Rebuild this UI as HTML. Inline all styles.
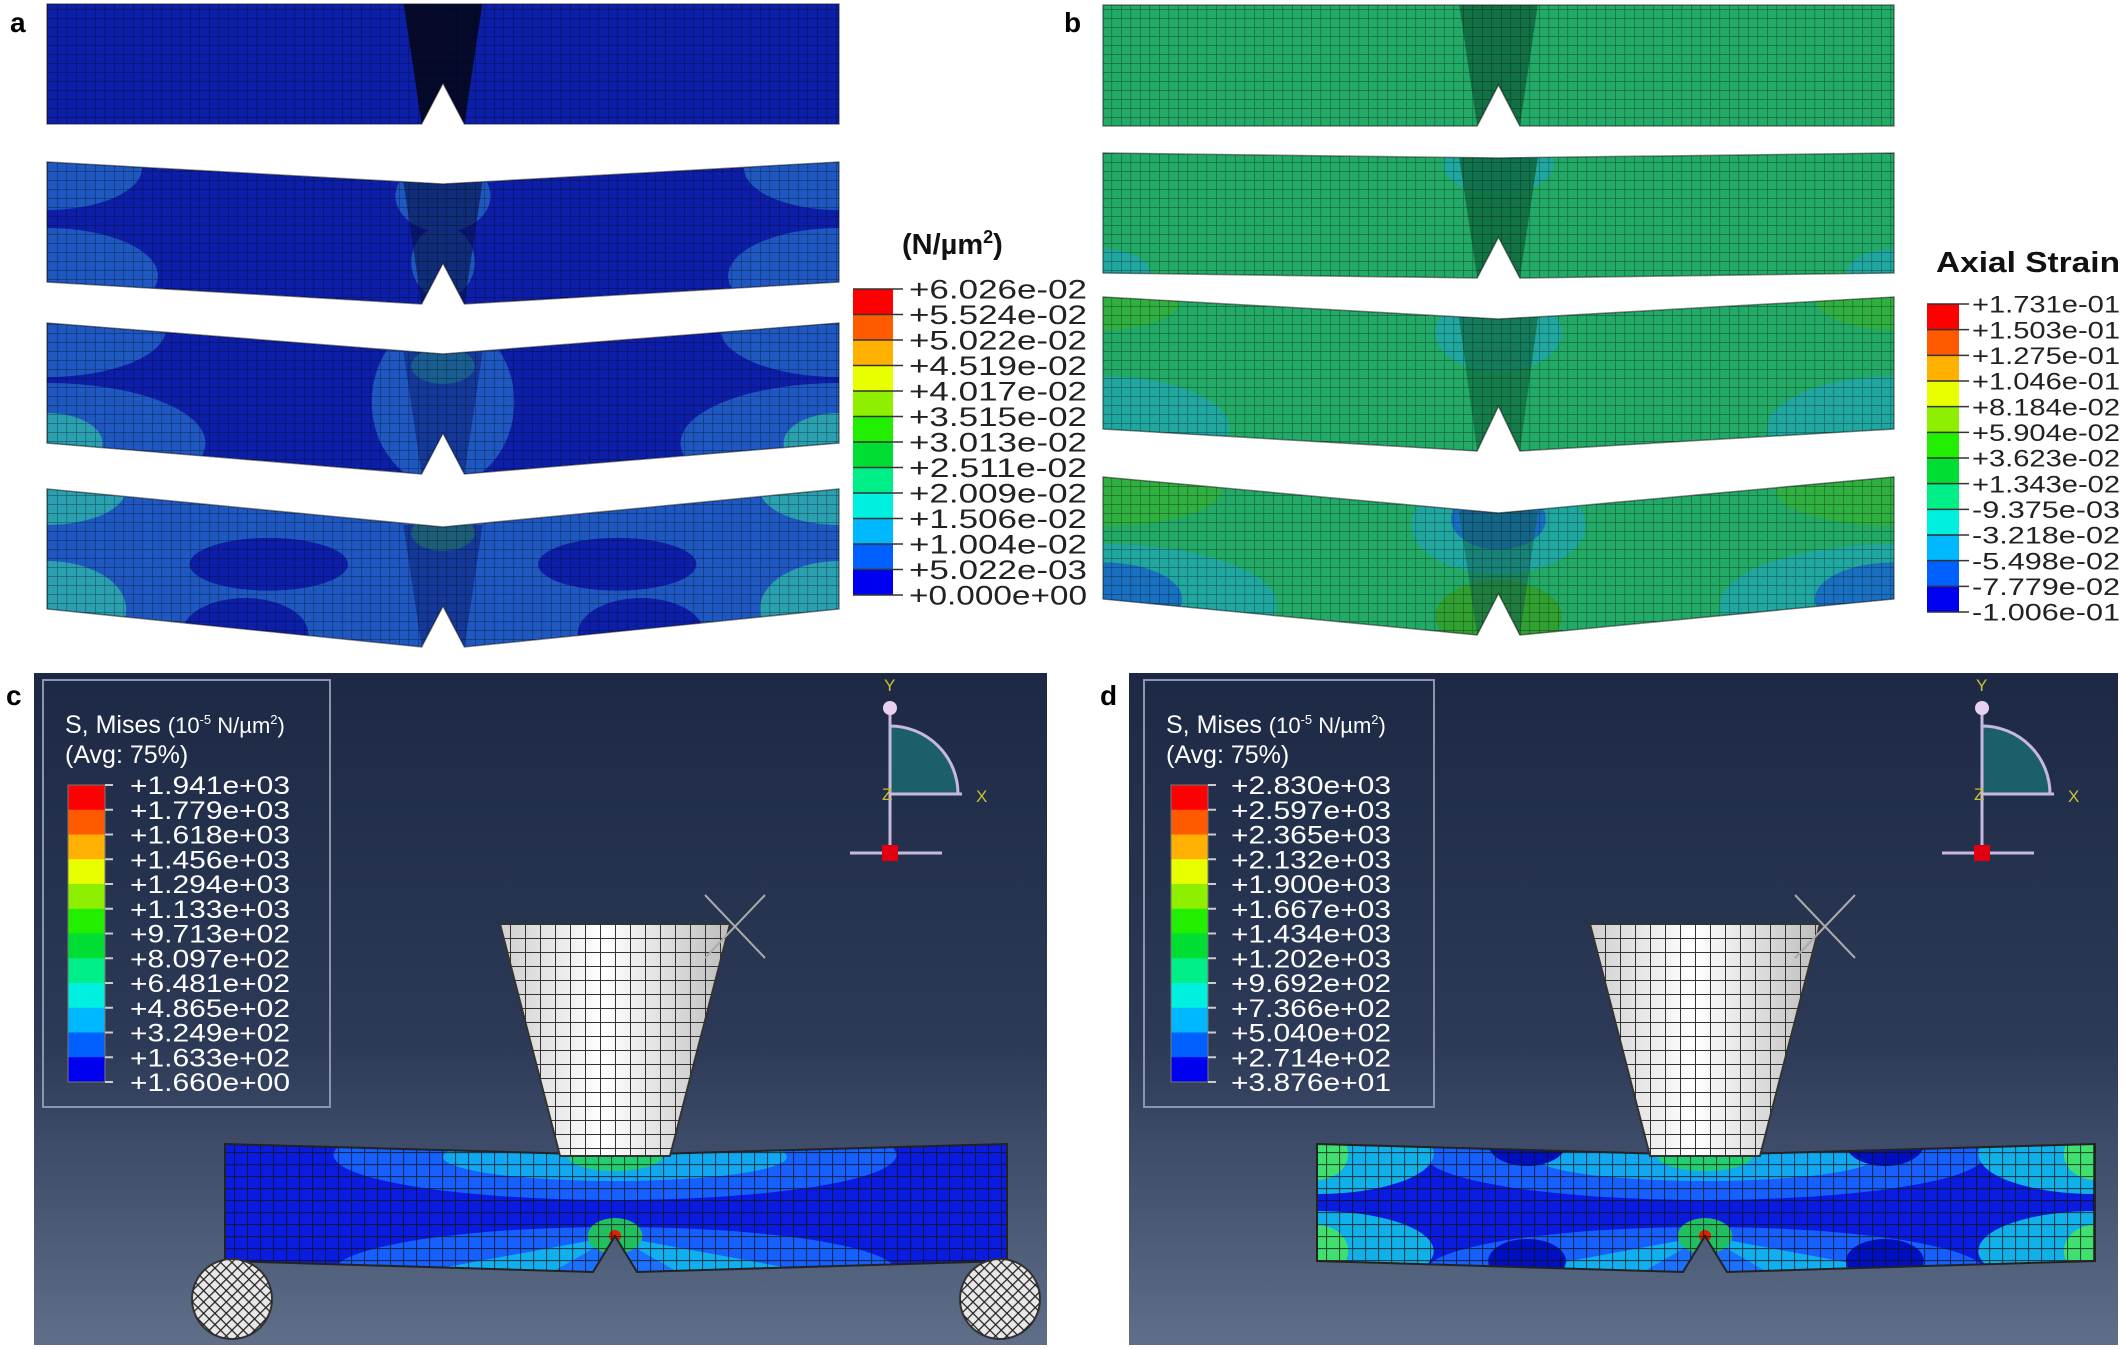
<!DOCTYPE html>
<html><head><meta charset="utf-8"><style>
html,body{margin:0;padding:0;background:#fff;}
svg{display:block;}
text{font-family:"Liberation Sans","DejaVu Sans",sans-serif;}
</style></head>
<body>
<svg id="fig" width="2125" height="1349" viewBox="0 0 2125 1349" xmlns="http://www.w3.org/2000/svg">
<defs>
  <pattern id="meshA" width="9.5" height="9" patternUnits="userSpaceOnUse"><path d="M0 0V9M0 0H9.5" stroke="#000" stroke-opacity="0.45" stroke-width="1.2" fill="none"/></pattern>
  <pattern id="meshC" width="13" height="12" patternUnits="userSpaceOnUse"><path d="M0 0V12M0 0H13" stroke="#111" stroke-opacity="0.7" stroke-width="2.2" fill="none"/></pattern>
  <pattern id="meshI" width="15" height="14" patternUnits="userSpaceOnUse"><path d="M0 0V14M0 0H15" stroke="#333" stroke-width="2" fill="none"/></pattern>
  <pattern id="meshR" width="8" height="8" patternUnits="userSpaceOnUse" patternTransform="rotate(45)"><path d="M0 0V8M0 0H8" stroke="#222" stroke-width="2.5" fill="none"/></pattern>
  <linearGradient id="bg" x1="0" y1="0" x2="0" y2="1"><stop offset="0" stop-color="#1d2944"/><stop offset="0.55" stop-color="#2c3a57"/><stop offset="1" stop-color="#5f6e89"/></linearGradient>
  <linearGradient id="cone" x1="0" y1="0" x2="1" y2="0"><stop offset="0" stop-color="#cfcfcf"/><stop offset="0.45" stop-color="#ffffff"/><stop offset="1" stop-color="#bdbdbd"/></linearGradient>
</defs>
<g id="root"></g>
</svg>
<script>
// ---- Legend data ----
const legendAValues = ["+6.026e-02","+5.524e-02","+5.022e-02","+4.519e-02","+4.017e-02","+3.515e-02","+3.013e-02","+2.511e-02","+2.009e-02","+1.506e-02","+1.004e-02","+5.022e-03","+0.000e+00"];
const legendBValues = ["+1.731e-01","+1.503e-01","+1.275e-01","+1.046e-01","+8.184e-02","+5.904e-02","+3.623e-02","+1.343e-02","-9.375e-03","-3.218e-02","-5.498e-02","-7.779e-02","-1.006e-01"];
const legendCValues = ["+1.941e+03","+1.779e+03","+1.618e+03","+1.456e+03","+1.294e+03","+1.133e+03","+9.713e+02","+8.097e+02","+6.481e+02","+4.865e+02","+3.249e+02","+1.633e+02","+1.660e+00"];
const legendDValues = ["+2.830e+03","+2.597e+03","+2.365e+03","+2.132e+03","+1.900e+03","+1.667e+03","+1.434e+03","+1.202e+03","+9.692e+02","+7.366e+02","+5.040e+02","+2.714e+02","+3.876e+01"];
const bandColors = ["#ff0000","#ff5a00","#ffb000","#e8ff00","#8ef000","#22ee00","#00dd33","#00ee88","#00f0e0","#00b8ff","#0060ff","#0000f0"];

const NS="http://www.w3.org/2000/svg";
const root=document.getElementById('root');
function mk(tag,attrs,parent,txt){const e=document.createElementNS(NS,tag);for(const k in attrs)e.setAttribute(k,attrs[k]);if(txt!==undefined)e.textContent=txt;(parent||root).appendChild(e);return e;}

[["a",10,32],["b",1064,32],["c",6,705],["d",1100,705]].forEach(([t,x,y])=>{
  const e=mk('text',{x:x,y:y,'font-size':28,'font-weight':'bold',fill:'#000'},root,t);
  
  
});

let clipId=0;
function beam(x0,x1,yL,yC,t,base,patches,pat,name,wedge){
  const g=mk('g',{});
  
  
  const xc=(x0+x1)/2, nw=(x1-x0)*0.027, nh=t*0.34, W=x1-x0;
  const pts=[[x0,yL],[xc,yC],[x1,yL],[x1,yL+t],[xc+nw,yC+t],[xc,yC+t-nh],[xc-nw,yC+t],[x0,yL+t]].map(p=>p.join(',')).join(' ');
  const id='clip'+(clipId++);
  const cp=mk('clipPath',{id:id},g);mk('polygon',{points:pts},cp);
  const inner=mk('g',{'clip-path':'url(#'+id+')'},g);
  mk('polygon',{points:pts,fill:base},inner);
  patches.forEach(p=>mk('ellipse',{cx:x0+p[0]*W,cy:yL+p[1]*t+(yC-yL)*(1-Math.abs(p[0]-0.5)*2),rx:p[2]*W,ry:p[3]*t,fill:p[4],opacity:p[5]||1},inner));
  if(wedge){
    const wp=`${xc-W*0.05},${yC-2} ${xc+W*0.05},${yC-2} ${xc+nw},${yC+t} ${xc-nw},${yC+t}`;
    mk('polygon',{points:wp,fill:wedge[0],opacity:wedge[1]},inner);
  }
  mk('polygon',{points:pts,fill:'url(#'+pat+')'},inner);
  mk('polygon',{points:pts,fill:'none',stroke:'#111','stroke-opacity':0.5,'stroke-width':1.5},g);
  return g;
}

const aDark="#0d1fa8", aMid="#1f58c0", aCy="#2aa0b0";
beam(47,839,4,4,120,aDark,[],'meshA','beam-a-1',["#04081e",0.9]);
beam(47,839,162,184,120,aDark,[[0,0.05,0.12,0.35,aMid],[1,0.05,0.12,0.35,aMid],[0,0.95,0.14,0.4,aMid],[1,0.95,0.14,0.4,aMid],[0.5,0.1,0.06,0.3,aMid],[0.5,0.65,0.04,0.3,aMid]],'meshA','beam-a-2',["#06104a",0.6]);
beam(47,839,323,354,120,aDark,[[0,0.05,0.15,0.4,aMid],[1,0.05,0.15,0.4,aMid],[0,1,0.2,0.5,aMid],[1,1,0.2,0.5,aMid],[0,1,0.07,0.25,aCy],[1,1,0.07,0.25,aCy],[0.5,0.4,0.09,0.7,aMid],[0.5,0.1,0.04,0.15,aCy]],'meshA','beam-a-3',["#0a1a70",0.5]);
beam(47,839,489,527,120,aMid,[[0.28,0.45,0.1,0.22,aDark],[0.72,0.45,0.1,0.22,aDark],[0.25,1.05,0.08,0.3,aDark],[0.75,1.05,0.08,0.3,aDark],[0,0.0,0.1,0.3,aCy],[1,0.0,0.1,0.3,aCy],[0,1,0.1,0.4,aCy],[1,1,0.1,0.4,aCy],[0.5,0.05,0.04,0.15,"#30a080"]],'meshA','beam-a-4',["#0a1a70",0.5]);

const bG="#22aa66", bDk="#0f6a40", bC="#20a8a0", bB="#1a70c0";
beam(1103,1894,5,5,121,bG,[],'meshA','beam-b-1',[bDk,0.9]);
beam(1103,1894,153,158,120,bG,[[0,1,0.06,0.2,bC],[1,1,0.06,0.2,bC],[0.5,0.05,0.07,0.25,bC]],'meshA','beam-b-2',[bDk,0.85]);
beam(1103,1894,297,319,132,bG,[[0.5,0.1,0.08,0.3,bC],[0,1,0.16,0.4,bC],[1,1,0.16,0.4,bC],[0,0,0.1,0.25,"#30b040"],[1,0,0.1,0.25,"#30b040"]],'meshA','beam-b-3',[bDk,0.7]);
beam(1103,1894,477,513,122,bG,[[0.5,0.1,0.11,0.4,bC],[0.5,0.05,0.06,0.25,bB],[0,1.05,0.22,0.5,bC],[1,1.05,0.22,0.5,bC],[0,1,0.1,0.3,bB],[1,1,0.1,0.3,bB],[0,0.1,0.15,0.3,"#30b040"],[1,0.1,0.15,0.3,"#30b040"],[0.5,0.85,0.08,0.3,"#30a030"]],'meshA','beam-b-4',["#0f5a50",0.5]);

function legend(x,y,w,h,vals,tx,fs,name,dx){
  const g=mk('g',{});
  
  
  const n=bandColors.length, bh=h/n;
  bandColors.forEach((c,i)=>{
    const r=mk('rect',{x:x,y:y+i*bh,width:w,height:bh+0.5,fill:c},g);
    
    
  });
  mk('rect',{x:x,y:y,width:w,height:h,fill:'none',stroke:'#777','stroke-width':1},g);
  vals.forEach((v,i)=>{
    const yy=y+i*bh;
    mk('line',{x1:x+w,y1:yy,x2:x+w+8,y2:yy,stroke:'#ccc','stroke-width':2},g);
    const t=mk('text',{x:tx,y:yy+fs*0.36,'font-size':fs,fill:'#fff',textLength:dx,lengthAdjust:'spacingAndGlyphs'},g,v);
    
    
  });
}
function legendPlain(x,y,w,h,vals,tx,fs,name,tl){
  const g=mk('g',{});
  
  
  const n=bandColors.length, bh=h/n;
  bandColors.forEach((c,i)=>{
    const r=mk('rect',{x:x,y:y+i*bh,width:w,height:bh+0.5,fill:c},g);
    
    
  });
  vals.forEach((v,i)=>{
    const yy=y+i*bh;
    mk('line',{x1:x,y1:yy,x2:x+w+10,y2:yy,stroke:'#333','stroke-width':1.5},g);
    const t=mk('text',{x:tx,y:yy+fs*0.36,'font-size':fs,fill:'#222',textLength:tl,lengthAdjust:'spacingAndGlyphs'},g,v);
    
    
  });
}
let t1=mk('text',{x:902,y:254,'font-size':29,'font-weight':'bold',fill:'#111'},root);
t1.innerHTML='(N/µm<tspan font-size="18" dy="-11">2</tspan><tspan dy="11">)</tspan>';


legendPlain(853,289,40,306,legendAValues,909,27,'legend-a',178);
let t2=mk('text',{x:1936,y:272,'font-size':29,'font-weight':'bold',fill:'#111',textLength:184,lengthAdjust:'spacingAndGlyphs'},root,'Axial Strain');


legendPlain(1927,304,32,308,legendBValues,1972,24,'legend-b',148);

function panel(px,pw,lb,cb,vals,bm,rollers,tri,name){
  const g=mk('g',{});
  
  
  mk('rect',{x:px,y:673,width:pw,height:672,fill:'url(#bg)'},g);
  mk('rect',{x:lb[0],y:680,width:lb[1]-lb[0],height:427,fill:'none',stroke:'#8a96ad','stroke-width':2},g);
  const tt=mk('text',{x:lb[0]+22,y:733,'font-size':25,fill:'#fff'},g);
  tt.innerHTML='S, Mises <tspan font-size="22">(10</tspan><tspan font-size="13" dy="-9">-5</tspan><tspan font-size="22" dy="9"> N/µm</tspan><tspan font-size="13" dy="-9">2</tspan><tspan font-size="22" dy="9">)</tspan>';
  mk('text',{x:lb[0]+22,y:763,'font-size':25,fill:'#fff'},g,'(Avg: 75%)');
  legend(cb[0],785,cb[1]-cb[0],297,vals,cb[2],25,name+'-legend',160);
  const tx=tri, tg=mk('g',{},g);
  
  
  mk('path',{d:`M${tx} 794 V726 A68 68 0 0 1 ${tx+68} 794 Z`,fill:'#1b5f6a',stroke:'#c8b8e0','stroke-width':3},tg);
  mk('line',{x1:tx,y1:708,x2:tx,y2:853,stroke:'#c8b8e0','stroke-width':3},tg);
  mk('line',{x1:tx,y1:794,x2:tx+72,y2:794,stroke:'#c8b8e0','stroke-width':3},tg);
  mk('circle',{cx:tx,cy:708,r:7,fill:'#e8d0f0'},tg);
  mk('line',{x1:tx-40,y1:853,x2:tx+52,y2:853,stroke:'#c8b8e0','stroke-width':3},tg);
  mk('rect',{x:tx-8,y:845,width:16,height:16,fill:'#e00010'},tg);
  mk('text',{x:tx-6,y:691,'font-size':17,fill:'#c8c030'},tg,'Y');
  mk('text',{x:tx+86,y:802,'font-size':17,fill:'#c8c030'},tg,'X');
  mk('text',{x:tx-8,y:800,'font-size':17,fill:'#c8c030'},tg,'Z');
  const [x0,x1,xn]=bm, yL=1144, yC=1155, yB=1261, yBC=1272;
  const pts=`${x0},${yL} ${xn},${yC} ${x1},${yL} ${x1},${yB} ${xn+22},${yBC} ${xn},${yBC-36} ${xn-22},${yBC} ${x0},${yB}`;
  const id='clip'+(clipId++);
  const cp=mk('clipPath',{id:id},g);mk('polygon',{points:pts},cp);
  const bg=mk('g',{'clip-path':'url(#'+id+')'},g);
  
  
  mk('polygon',{points:pts,fill:'#0a1ce0'},bg);
  const W=x1-x0;
  mk('ellipse',{cx:xn,cy:yC,rx:W*0.36,ry:45,fill:'#1560ff'},bg);
  mk('ellipse',{cx:xn,cy:yC+2,rx:W*0.22,ry:24,fill:'#10a8f0'},bg);
  mk('ellipse',{cx:xn,cy:yC+2,rx:W*0.06,ry:14,fill:'#20d070'},bg);
  mk('ellipse',{cx:xn,cy:yBC,rx:W*0.36,ry:45,fill:'#1560ff'},bg);
  mk('polygon',{points:`${xn},${yBC-36} ${xn-W*0.25},${yBC} ${xn+W*0.25},${yBC}`,fill:'#10b0f0'},bg);
  mk('polygon',{points:`${xn},${yBC-36} ${xn-W*0.08},${yBC} ${xn+W*0.08},${yBC}`,fill:'#1a70ff'},bg);
  mk('ellipse',{cx:xn,cy:yBC-36,rx:W*0.035,ry:18,fill:'#20c060'},bg);
  mk('circle',{cx:xn,cy:yBC-36,r:6,fill:'#e02000'},bg);
  if(!rollers){
    [[x0,yL+10],[x1,yL+10],[x0,yB-10],[x1,yB-10]].forEach(p=>{
      mk('ellipse',{cx:p[0],cy:p[1],rx:W*0.15,ry:40,fill:'#10b0e8'},bg);
      mk('ellipse',{cx:p[0],cy:p[1],rx:W*0.04,ry:26,fill:'#40e070'},bg);
    });
    [[0.27,yL],[0.73,yL],[0.27,yB],[0.73,yB]].forEach(p=>mk('ellipse',{cx:x0+p[0]*W,cy:p[1],rx:W*0.05,ry:22,fill:'#0010c0'},bg));
  }
  mk('polygon',{points:pts,fill:'url(#meshC)'},bg);
  mk('polygon',{points:pts,fill:'none',stroke:'#222','stroke-width':2},g);
  const ig=mk('g',{},g);
  
  
  const ct=xn, ipts=`${ct-115},924 ${ct+115},924 ${ct+55},1156 ${ct-55},1156`;
  mk('polygon',{points:ipts,fill:'url(#cone)'},ig);
  const cid='clip'+(clipId++);
  const ccp=mk('clipPath',{id:cid},ig);mk('polygon',{points:ipts},ccp);
  mk('rect',{x:ct-120,y:924,width:240,height:232,fill:'url(#meshI)','clip-path':'url(#'+cid+')'},ig);
  mk('polygon',{points:ipts,fill:'none',stroke:'#333','stroke-width':2},ig);
  mk('line',{x1:ct+90,y1:895,x2:ct+150,y2:958,stroke:'#aaa','stroke-width':2},ig);
  mk('line',{x1:ct+150,y1:895,x2:ct+90,y2:958,stroke:'#aaa','stroke-width':2},ig);
  if(rollers){
    [[232,1299],[1000,1299]].forEach(c=>{
      const r=mk('circle',{cx:c[0],cy:c[1],r:40,fill:'#e8e8e8',stroke:'#333','stroke-width':2},g);
      
      
      mk('circle',{cx:c[0],cy:c[1],r:40,fill:'url(#meshR)'},g);
    });
  }
}
panel(34,1013,[43,330],[68,105,130],legendCValues,[225,1007,615],true,890,'panel-c');
panel(1129,989,[1144,1434],[1171,1208,1231],legendDValues,[1317,2095,1705],false,1982,'panel-d');
</script>
</body></html>
